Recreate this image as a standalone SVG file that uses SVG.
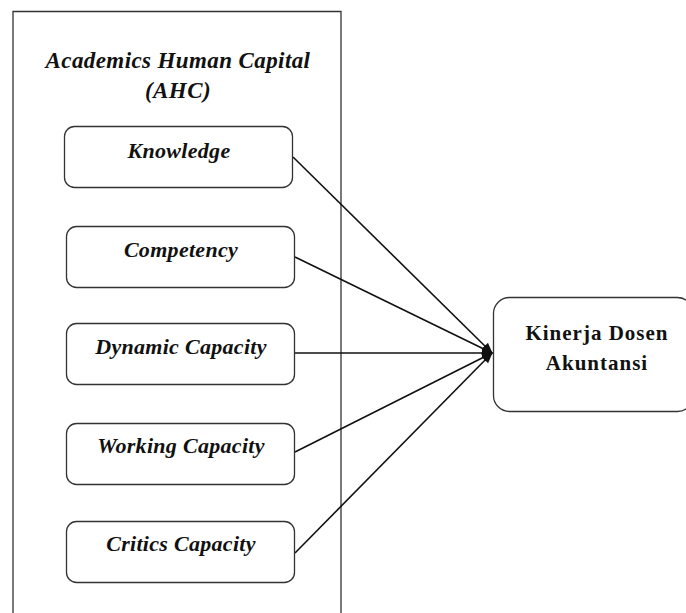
<svg xmlns="http://www.w3.org/2000/svg" width="686" height="613" viewBox="0 0 686 613">
  <style>
    .frame { fill: none; stroke: #333; stroke-width: 1.3; }
    .box { fill: #fff; stroke: #333; stroke-width: 1.3; }
    .lbl { font-family: "Liberation Serif", "Times New Roman", serif; font-weight: bold; font-style: italic; font-size: 22px; fill: #111; text-anchor: middle; letter-spacing: 0.3px; }
    .title { font-family: "Liberation Serif", "Times New Roman", serif; font-weight: bold; font-style: italic; font-size: 23px; fill: #111; text-anchor: middle; letter-spacing: 0.4px; }
    .out { font-family: "Liberation Serif", "Times New Roman", serif; font-weight: bold; font-size: 21px; fill: #111; text-anchor: middle; letter-spacing: 1px; }
    .link { stroke: #111; stroke-width: 1.6; fill: none; marker-end: url(#head); }
  </style>
  <defs>
    <marker id="head" viewBox="0 0 10 10" refX="9" refY="5" markerWidth="7" markerHeight="7" orient="auto" markerUnits="strokeWidth">
      <path d="M0,1 L10,5 L0,9 Z" fill="#111"/>
    </marker>
  </defs>
  <rect width="686" height="613" fill="#fff"/>

  <!-- AHC grouping frame (open at bottom) -->
  <g id="ahc">
    <path class="frame" d="M13,613 L13,11.5 L341,11.5 L341,613"/>
    <text class="title" x="178" y="68">Academics Human Capital</text>
    <text class="title" x="178" y="98">(AHC)</text>
  </g>

  <!-- connectors -->
  <g id="connectors">
    <line class="link" x1="293" y1="157" x2="492" y2="353"/>
    <line class="link" x1="295" y1="257" x2="492" y2="353"/>
    <line class="link" x1="295" y1="353" x2="492" y2="353"/>
    <line class="link" x1="295" y1="452" x2="492" y2="353"/>
    <line class="link" x1="295" y1="553" x2="492" y2="353"/>
  </g>

  <g id="knowledge">
    <rect class="box" x="64.5" y="126.5" width="228" height="61" rx="10"/>
    <text class="lbl" x="179" y="158">Knowledge</text>
  </g>
  <g id="competency">
    <rect class="box" x="66.5" y="226.5" width="228" height="61" rx="10"/>
    <text class="lbl" x="181" y="257">Competency</text>
  </g>
  <g id="dynamic-capacity">
    <rect class="box" x="66.5" y="323.5" width="228" height="61" rx="10"/>
    <text class="lbl" x="181" y="354">Dynamic Capacity</text>
  </g>
  <g id="working-capacity">
    <rect class="box" x="66.5" y="423.5" width="228" height="61" rx="10"/>
    <text class="lbl" x="181" y="453">Working Capacity</text>
  </g>
  <g id="critics-capacity">
    <rect class="box" x="66.5" y="521.5" width="228" height="61" rx="10"/>
    <text class="lbl" x="181" y="551">Critics Capacity</text>
  </g>

  <g id="kinerja">
    <rect class="box" x="493.5" y="297.5" width="200" height="114" rx="16"/>
    <text class="out" x="597" y="340">Kinerja Dosen</text>
    <text class="out" x="597" y="370">Akuntansi</text>
  </g>
</svg>
